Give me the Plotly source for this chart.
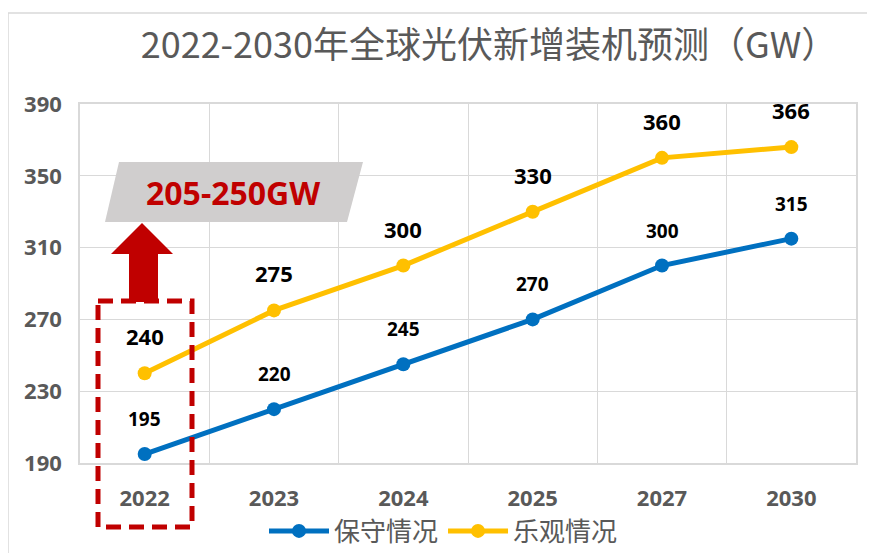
import plotly.graph_objects as go

years = ["2022", "2023", "2024", "2025", "2027", "2030"]
conservative = [195, 220, 245, 270, 300, 315]
optimistic = [240, 275, 300, 330, 360, 366]
series_names = ["保守情况", "乐观情况"]
title_text = "2022-2030年全球光伏新增装机预测（GW）"
callout_text = "205-250GW"
y_ticks = [190, 230, 270, 310, 350, 390]

# page body has an 8px margin, so the figure is drawn 8px right/down
OFF = 8
W, H = 875 - OFF, 553 - OFF
ML, MT = 80 - OFF, 104 - OFF
PW, PH = 776, 359
MR = W - ML - PW
MB = H - MT - PH

BLUE = "#0070C0"
YELLOW = "#FFC000"
RED = "#C00000"
GRAY_TXT = "#595959"
GRID = "#D9D9D9"


def px(xs):
    # screen x pixel -> paper fraction
    return (xs - OFF - ML) / PW


def py(ys):
    # screen y pixel -> paper fraction
    return (MT + PH - (ys - OFF)) / PH


fig = go.Figure()
fig.add_trace(go.Scatter(
    x=years, y=conservative, name=series_names[0], mode="lines+markers",
    line=dict(color=BLUE, width=5), marker=dict(color=BLUE, size=14),
))
fig.add_trace(go.Scatter(
    x=years, y=optimistic, name=series_names[1], mode="lines+markers",
    line=dict(color=YELLOW, width=5), marker=dict(color=YELLOW, size=14),
))

ann = []
for i, yv in enumerate(conservative):
    ann.append(dict(x=i, y=yv, xref="x", yref="y", text=str(yv), showarrow=False,
                    yshift=35, font=dict(family="Noto Sans", size=19, color="#000000", weight="bold")))
for i, yv in enumerate(optimistic):
    ann.append(dict(x=i, y=yv, xref="x", yref="y", text=str(yv), showarrow=False,
                    yshift=37, font=dict(family="Noto Sans", size=22, color="#000000", weight="bold")))

# callout text
ann.append(dict(x=px(233), y=py(192), xref="paper", yref="paper", text=callout_text,
                showarrow=False, xanchor="center", yanchor="middle",
                font=dict(family="Noto Sans", size=32, color=RED, weight="bold")))

shapes = []
# outer frame
shapes.append(dict(type="rect", xref="paper", yref="paper",
                   x0=px(8), x1=px(920), y0=py(13), y1=py(620),
                   line=dict(color=GRID, width=1.5), fillcolor="rgba(0,0,0,0)", layer="below"))
# gray parallelogram
shapes.append(dict(type="path", xref="paper", yref="paper",
                   path=f"M{px(119)},{py(162)} L{px(363)},{py(162)} L{px(347)},{py(222)} L{px(105)},{py(222)} Z",
                   fillcolor="#D0CECE", line=dict(width=0), layer="above"))
# red arrow
arrow_pts = [(142, 223), (173, 254), (158, 254), (158, 302), (129, 302), (129, 254), (111, 254)]
path = "M" + " L".join(f"{px(a)},{py(b)}" for a, b in arrow_pts) + " Z"
shapes.append(dict(type="path", xref="paper", yref="paper", path=path,
                   fillcolor=RED, line=dict(width=0), layer="above"))
# dashed box
shapes.append(dict(type="rect", xref="paper", yref="paper",
                   x0=px(98), x1=px(192), y0=py(301), y1=py(527),
                   line=dict(color=RED, width=5, dash="15px,8px"),
                   fillcolor="rgba(0,0,0,0)", layer="above"))

fig.update_layout(
    width=W, height=H,
    margin=dict(l=ML, r=MR, t=MT, b=MB, autoexpand=False),
    paper_bgcolor="white", plot_bgcolor="white",
    title=dict(text=title_text, x=(489 - OFF) / W, xref="container", xanchor="center",
               y=1 - (45 - OFF) / H, yref="container", yanchor="middle",
               font=dict(family="Noto Sans CJK SC", size=36, color=GRAY_TXT)),
    xaxis=dict(type="category", range=[-0.5, len(years) - 0.5], tickson="boundaries",
               showgrid=True, gridcolor=GRID, gridwidth=1,
               showline=True, linecolor=GRID, linewidth=1.5, mirror=True,
               ticks="", ticklabelstandoff=15, tickangle=0,
               tickfont=dict(family="Noto Sans", size=22, color=GRAY_TXT, weight="bold"),
               fixedrange=True),
    yaxis=dict(range=[190, 390], tickvals=y_ticks, showgrid=True, gridcolor=GRID, gridwidth=1,
               showline=True, linecolor=GRID, linewidth=1.5, mirror=True, zeroline=False,
               ticks="", ticklabelstandoff=12,
               tickfont=dict(family="Noto Sans", size=22, color=GRAY_TXT, weight="bold"),
               fixedrange=True),
    legend=dict(orientation="h", x=px(264), xanchor="left", y=py(531), yanchor="middle",
                itemwidth=60, font=dict(family="Noto Sans CJK SC", size=26, color=GRAY_TXT),
                bgcolor="rgba(0,0,0,0)", tracegroupgap=0),
    annotations=ann, shapes=shapes, showlegend=True,
)

fig.write_html("out.html")
